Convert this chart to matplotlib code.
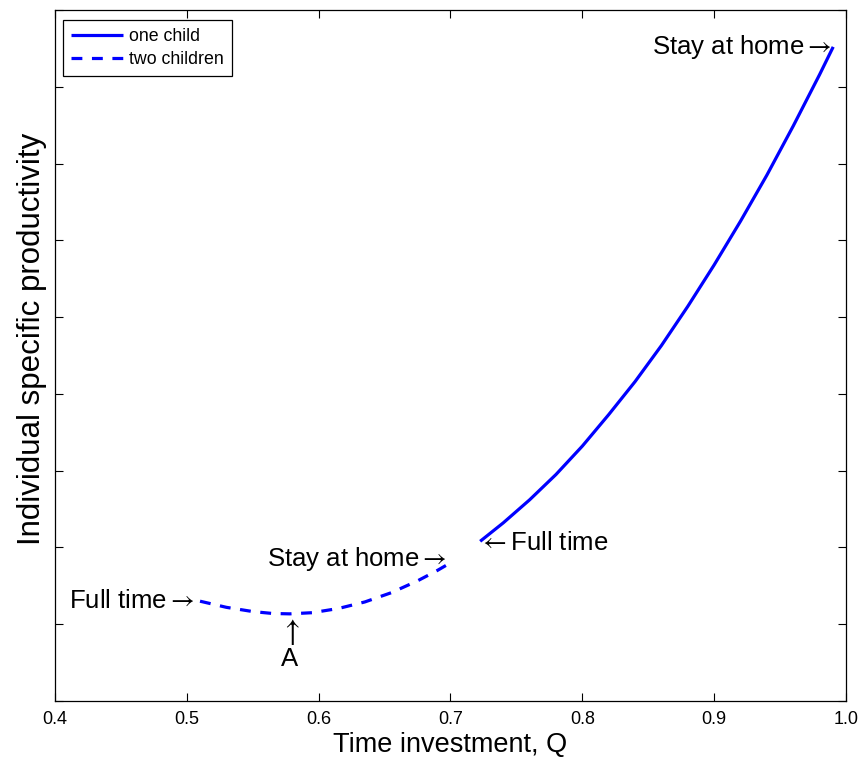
import matplotlib
matplotlib.use("Agg")
import matplotlib.pyplot as plt

plt.rcParams['font.family'] = ['Liberation Sans', 'DejaVu Sans']
plt.rcParams['mathtext.fontset'] = 'stix'

# one child (solid)
q_one = [0.7225, 0.74, 0.76, 0.78, 0.80, 0.82, 0.84, 0.86, 0.88, 0.90, 0.92, 0.94, 0.96, 0.98, 0.9903]
p_one = [2.08, 2.32, 2.62, 2.95, 3.32, 3.73, 4.16, 4.63, 5.14, 5.68, 6.25, 6.85, 7.49, 8.16, 8.52]

# two children (dashed)
q_two = [0.510, 0.530, 0.550, 0.565, 0.578, 0.595, 0.615, 0.635, 0.655, 0.675, 0.690, 0.701]
p_two = [1.30, 1.22, 1.165, 1.14, 1.135, 1.15, 1.205, 1.29, 1.41, 1.565, 1.70, 1.81]

x_ticks = [0.4, 0.5, 0.6, 0.7, 0.8, 0.9, 1.0]
x_ticklabels = ['0.4', '0.5', '0.6', '0.7', '0.8', '0.9', '1.0']
y_ticks = [0, 1, 2, 3, 4, 5, 6, 7, 8, 9]

W, H = 864, 769
fig = plt.figure(figsize=(W / 100, H / 100), dpi=100)
L, R, T, B = 55, 846, 10, 701
ax = fig.add_axes([L / W, 1 - B / H, (R - L) / W, (B - T) / H])

blue = '#0000ff'
ax.plot(q_one, p_one, color=blue, lw=2.3, label='one child', solid_capstyle='butt')
ax.plot(q_two, p_two, color=blue, lw=2.3, label='two children', dashes=(3.4, 3.0))

ax.set_xlim(0.4, 1.0)
ax.set_ylim(0, 9)
ax.set_xticks(x_ticks)
ax.set_xticklabels(x_ticklabels)
ax.set_yticks(y_ticks)
ax.set_yticklabels([])
ax.tick_params(direction='in', length=5.5, width=0.8, top=True, right=True,
               labelsize=13, pad=7, colors='black')
for s in ax.spines.values():
    s.set_linewidth(0.9)

ax.set_xlabel('Time investment, Q', fontsize=19.5, labelpad=3)
ax.set_ylabel('Individual specific productivity', fontsize=22.5)
ax.yaxis.set_label_coords(-0.010, 0.524)

fs = 18.5
afs = 22
ax.text(0, 0, '')
ax.annotate(r'Stay at home$\rightarrow$', xy=(q_one[-1], p_one[-1]), xytext=(-1, 0),
            textcoords='offset points', ha='right', va='center', fontsize=fs)
ax.annotate(r'Full time$\rightarrow$', xy=(q_two[0], p_two[0]), xytext=(-4, 0),
            textcoords='offset points', ha='right', va='center', fontsize=fs)
ax.annotate(r'Stay at home$\rightarrow$', xy=(q_two[-1], p_two[-1]), xytext=(-4, 2),
            textcoords='offset points', ha='right', va='center', fontsize=fs)
ax.annotate(r'$\leftarrow$Full time', xy=(q_one[0], p_one[0]), xytext=(-1, -1),
            textcoords='offset points', ha='left', va='center', fontsize=fs)
ax.annotate(r'$\uparrow$', xy=(q_two[4], p_two[4]), xytext=(0, -2),
            textcoords='offset points', ha='center', va='top', fontsize=afs)
ax.annotate('A', xy=(q_two[4], p_two[4]), xytext=(0, -24),
            textcoords='offset points', ha='center', va='top', fontsize=fs)

leg = ax.legend(loc='upper left', bbox_to_anchor=((63 - L) / (R - L), 1 - (20 - T) / (B - T)),
                borderaxespad=0, fancybox=False, edgecolor='black', framealpha=1,
                fontsize=12.8, handlelength=2.9, handletextpad=0.35, borderpad=0.45,
                labelspacing=0.35)
leg.get_frame().set_linewidth(0.9)

fig.savefig('out.png', dpi=100)
